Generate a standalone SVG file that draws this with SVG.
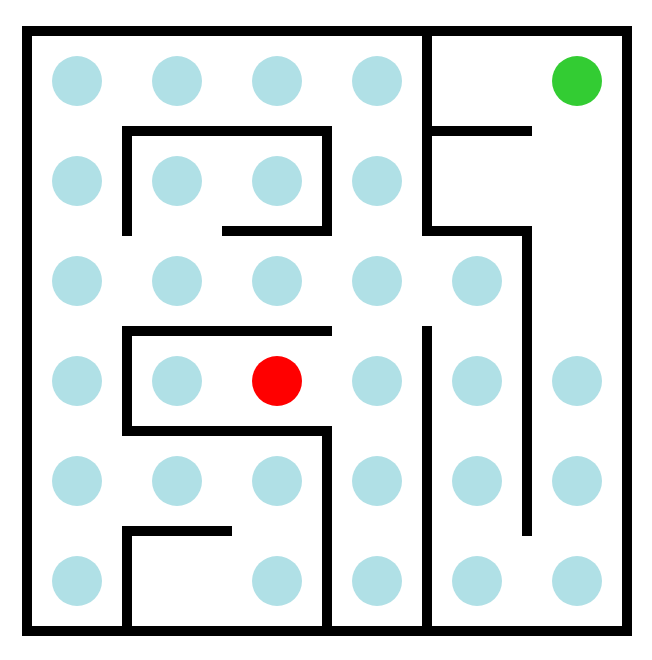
<svg xmlns="http://www.w3.org/2000/svg" width="652" height="660" viewBox="0 0 652 660">
<style>
.wall{stroke:#000;stroke-width:10;stroke-linecap:square;fill:none}
.dot{fill:#B0E0E6}
</style>
<rect width="652" height="660" fill="#fff"/>
<g id="dots">
<circle class="dot" cx="77" cy="81" r="25"/><circle class="dot" cx="177" cy="81" r="25"/><circle class="dot" cx="277" cy="81" r="25"/><circle class="dot" cx="377" cy="81" r="25"/>
<circle class="dot" cx="77" cy="181" r="25"/><circle class="dot" cx="177" cy="181" r="25"/><circle class="dot" cx="277" cy="181" r="25"/><circle class="dot" cx="377" cy="181" r="25"/>
<circle class="dot" cx="77" cy="281" r="25"/><circle class="dot" cx="177" cy="281" r="25"/><circle class="dot" cx="277" cy="281" r="25"/><circle class="dot" cx="377" cy="281" r="25"/><circle class="dot" cx="477" cy="281" r="25"/>
<circle class="dot" cx="77" cy="381" r="25"/><circle class="dot" cx="177" cy="381" r="25"/><circle class="dot" cx="377" cy="381" r="25"/><circle class="dot" cx="477" cy="381" r="25"/><circle class="dot" cx="577" cy="381" r="25"/>
<circle class="dot" cx="77" cy="481" r="25"/><circle class="dot" cx="177" cy="481" r="25"/><circle class="dot" cx="277" cy="481" r="25"/><circle class="dot" cx="377" cy="481" r="25"/><circle class="dot" cx="477" cy="481" r="25"/><circle class="dot" cx="577" cy="481" r="25"/>
<circle class="dot" cx="77" cy="581" r="25"/><circle class="dot" cx="277" cy="581" r="25"/><circle class="dot" cx="377" cy="581" r="25"/><circle class="dot" cx="477" cy="581" r="25"/><circle class="dot" cx="577" cy="581" r="25"/>
</g>
<g id="goal"><circle cx="577" cy="81" r="25" fill="#33CC33"/></g>
<g id="agent"><circle cx="277" cy="381" r="25" fill="#FF0000"/></g>
<g id="walls">
<rect class="wall" x="27" y="31" width="600" height="600" stroke-linecap="butt"/>
<line class="wall" x1="427" y1="31" x2="427" y2="231"/>
<line class="wall" x1="427" y1="131" x2="527" y2="131"/>
<line class="wall" x1="127" y1="131" x2="327" y2="131"/>
<line class="wall" x1="127" y1="131" x2="127" y2="231"/>
<line class="wall" x1="327" y1="131" x2="327" y2="231"/>
<line class="wall" x1="227" y1="231" x2="327" y2="231"/>
<line class="wall" x1="427" y1="231" x2="527" y2="231"/>
<line class="wall" x1="527" y1="231" x2="527" y2="531"/>
<line class="wall" x1="127" y1="331" x2="327" y2="331"/>
<line class="wall" x1="127" y1="331" x2="127" y2="431"/>
<line class="wall" x1="127" y1="431" x2="327" y2="431"/>
<line class="wall" x1="327" y1="431" x2="327" y2="631"/>
<line class="wall" x1="427" y1="331" x2="427" y2="631"/>
<line class="wall" x1="127" y1="531" x2="227" y2="531"/>
<line class="wall" x1="127" y1="531" x2="127" y2="631"/>
</g>
</svg>
